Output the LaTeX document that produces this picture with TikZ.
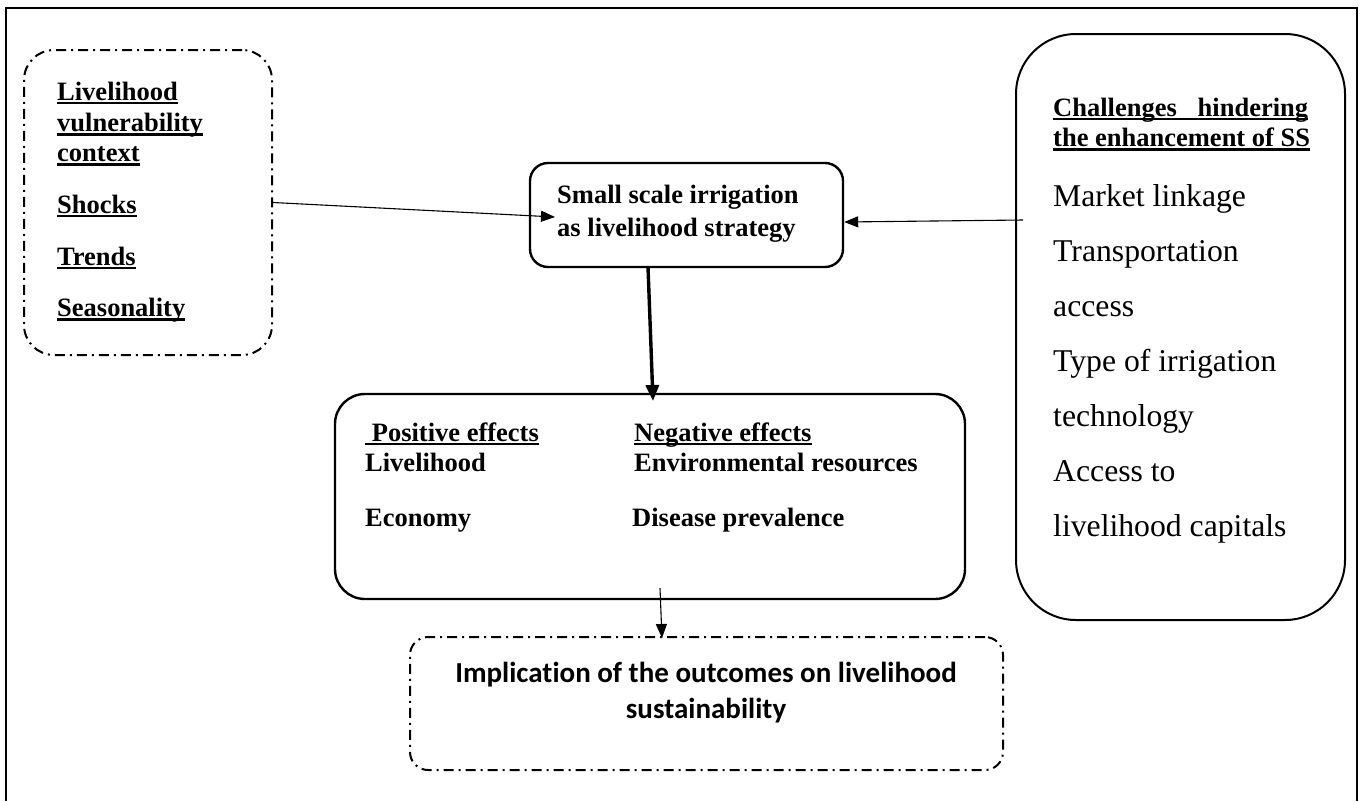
\documentclass[tikz,border=0pt]{standalone}
\usepackage{fontspec}
\setmainfont{Liberation Serif}
\newfontfamily\calib[Ligatures=NoCommon]{Carlito}
\usetikzlibrary{arrows.meta}

% thick underline that runs through descenders, as in a word processor
\newcommand{\ulx}[1]{\setbox0\hbox{#1}\rlap{\rule[-4.4pt]{\wd0}{2.7pt}}\box0}

\begin{document}
\begin{tikzpicture}[x=1pt,y=-1pt,
  bodytxt/.style={anchor=base west,inner sep=0pt,font=\fontsize{26.5}{31.7}\selectfont\bfseries},
  plaintxt/.style={anchor=base west,inner sep=0pt,font=\fontsize{31.7}{38}\selectfont},
  dashdot/.style={dash pattern=on 10pt off 5pt on 2pt off 5pt},
  solidbox/.style={draw,line width=2.4pt},
  tip/.style={-{Triangle[length=14pt,width=11pt]}},
  thin/.style={line width=1.1pt}
]
\useasboundingbox (0,0) rectangle (1360,801);
\fill[white] (0,0) rectangle (1360,801);

% page frame, open at the foot
\draw[line width=2.8pt] (6,801) -- (6,8) -- (1357,8) -- (1357,801);

% vulnerability context
\node[draw,line width=2pt,dashdot,rounded corners=30pt,minimum width=248pt,minimum height=305pt,inner sep=0pt] (ctx) at (148,202.5) {};
\node[bodytxt] (c1) at (57,100) {\ulx{Livelihood}};
\node[bodytxt] (c2) at (57,131.5) {\ulx{vulnerability}};
\node[bodytxt] (c3) at (57,161.5) {\ulx{context}};
\node[bodytxt] (c4) at (57,213) {\ulx{Shocks}};
\node[bodytxt] (c5) at (57,265) {\ulx{Trends}};
\node[bodytxt] (c6) at (57,316.5) {\ulx{Seasonality}};

% livelihood strategy
\node[solidbox,rounded corners=18pt,minimum width=313pt,minimum height=104pt,inner sep=0pt] (ssi) at (686.5,215) {};
\node[bodytxt] (s1) at (557,203) {Small scale irrigation};
\node[bodytxt] (s2) at (557,236) {as livelihood strategy};

% challenges
\node[draw,line width=2pt,rounded corners=60pt,minimum width=329pt,minimum height=586pt,inner sep=0pt] (chal) at (1180.5,327) {};
\node[bodytxt] (h1) at (1053,116) {\ulx{\hbox to 255pt{Challenges\hfill hindering}}};
\node[bodytxt] (h2) at (1053,146.5) {\ulx{the enhancement of SS}};
\node[plaintxt] (r1) at (1053,206.7) {Market linkage};
\node[plaintxt] (r2) at (1053,261.7) {Transportation};
\node[plaintxt] (r3) at (1053,316.7) {access};
\node[plaintxt] (r4) at (1053,371.7) {Type of irrigation};
\node[plaintxt] (r5) at (1053,426.7) {technology};
\node[plaintxt] (r6) at (1053,481.7) {Access to};
\node[plaintxt] (r7) at (1053,536.7) {livelihood capitals};

% effects
\node[solidbox,rounded corners=30pt,minimum width=630pt,minimum height=205pt,inner sep=0pt] (eff) at (650,496.5) {};
\node[bodytxt] (p0) at (365,441) {\ulx{\ Positive effects}};
\node[bodytxt] (p1) at (365,471.7) {Livelihood};
\node[bodytxt] (p2) at (365,526.7) {Economy};
\node[bodytxt] (n0) at (634,441) {\ulx{Negative effects}};
\node[bodytxt] (n1) at (634,471.7) {Environmental resources};
\node[bodytxt] (n2) at (632,526.7) {Disease prevalence};

% implication
\node[draw,line width=2pt,dashdot,rounded corners=18pt,minimum width=593pt,minimum height=133pt,inner sep=0pt] (impl) at (706.5,703.5) {};
\node[inner sep=0pt,anchor=base,font=\calib\bfseries\fontsize{29}{35}\selectfont] (i1) at (706,682) {Implication of the outcomes on livelihood};
\node[inner sep=0pt,anchor=base,font=\calib\bfseries\fontsize{29}{35}\selectfont] (i2) at (706,718) {sustainability};

% connectors
\coordinate (ctxend) at (555,217);
\coordinate (chalstart) at (1023,220);
\coordinate (ssifoot) at (648,267);
\coordinate (efftop) at (653,401);
\coordinate (efffoot) at (660,588);
\coordinate (impltop) at (662,638);

\draw[thin,tip] (ctx.east) -- (ctxend);
\draw[thin,tip] (chalstart) -- ([yshift=-7pt]ssi.east);
\draw[line width=3.4pt,-{Triangle[length=16pt,width=13pt]}] (ssifoot) -- (efftop);
\draw[thin,tip] (efffoot) -- (impltop);
\end{tikzpicture}
\end{document}
